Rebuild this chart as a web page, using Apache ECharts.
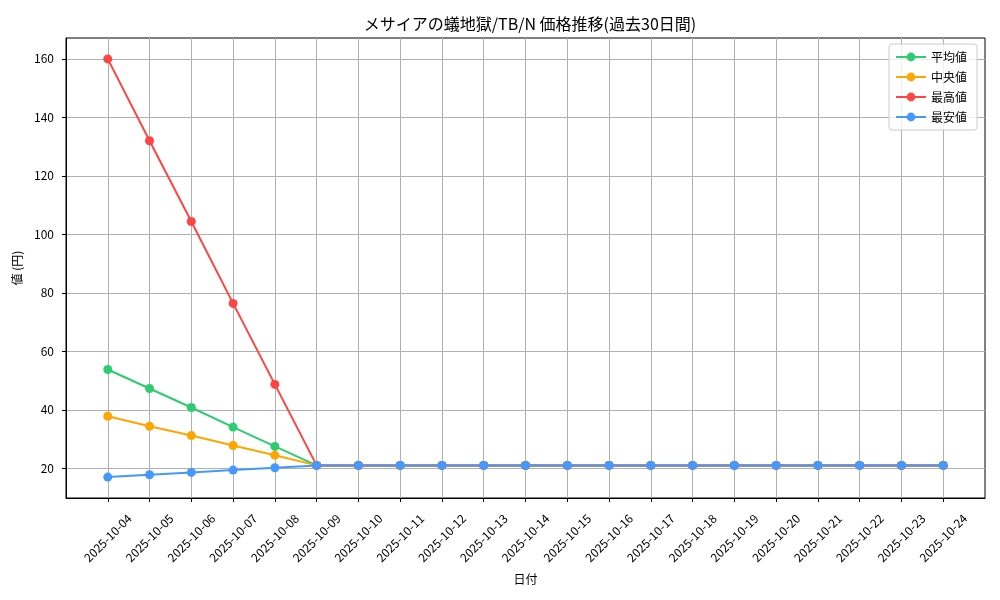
<!DOCTYPE html>
<html>
<head>
<meta charset="utf-8">
<script src="https://cdn.jsdelivr.net/npm/echarts@6/dist/echarts.min.js"></script>
<style>
html,body{margin:0;padding:0;background:#fff;}
#chart{width:1000px;height:600px;}
</style>
</head>
<body>
<div id="chart"></div>
<script>
const dates = ['2025-10-04','2025-10-05','2025-10-06','2025-10-07','2025-10-08','2025-10-09','2025-10-10','2025-10-11','2025-10-12','2025-10-13','2025-10-14','2025-10-15','2025-10-16','2025-10-17','2025-10-18','2025-10-19','2025-10-20','2025-10-21','2025-10-22','2025-10-23','2025-10-24'];
const avgValues = [53.8, 47.3, 40.8, 34.1, 27.5, 21, 21, 21, 21, 21, 21, 21, 21, 21, 21, 21, 21, 21, 21, 21, 21];
const medianValues = [37.8, 34.4, 31.2, 27.8, 24.5, 21, 21, 21, 21, 21, 21, 21, 21, 21, 21, 21, 21, 21, 21, 21, 21];
const maxValues = [160, 132, 104.4, 76.4, 48.7, 21, 21, 21, 21, 21, 21, 21, 21, 21, 21, 21, 21, 21, 21, 21, 21];
const minValues = [17.0, 17.8, 18.6, 19.4, 20.2, 21, 21, 21, 21, 21, 21, 21, 21, 21, 21, 21, 21, 21, 21, 21, 21];
const yTicks = [20, 40, 60, 80, 100, 120, 140, 160];
const seriesNames = ['平均値', '中央値', '最高値', '最安値'];
const seriesColors = ['#2ecc71', '#ffa500', '#ff4444', '#4499ff'];

const FONT = '"Noto Sans CJK JP", sans-serif';
const chart = echarts.init(document.getElementById('chart'));
const allSeries = [avgValues, medianValues, maxValues, minValues];
const xIdx = dates.map((d, i) => i);

chart.setOption({
  animation: false,
  backgroundColor: '#fff',
  textStyle: {fontFamily: FONT},
  title: {
    text: 'メサイアの蟻地獄/TB/N 価格推移(過去30日間)',
    left: 525, top: 11, textAlign: 'center',
    textStyle: {fontFamily: FONT, fontSize: 16, fontWeight: 'normal', color: '#000'}
  },
  legend: {
    orient: 'vertical', right: 23, top: 44,
    itemWidth: 30, itemHeight: 11, itemGap: 8,
    padding: [7, 10, 7, 6],
    borderColor: '#cccccc', borderWidth: 1, borderRadius: 3,
    backgroundColor: 'rgba(255,255,255,0.8)',
    textStyle: {fontFamily: FONT, fontSize: 12, color: '#000', lineHeight: 11},
    data: seriesNames
  },
  grid: {
    left: 66, right: 15, top: 38, bottom: 102,
    show: true, borderColor: '#000', borderWidth: 1, containLabel: false
  },
  xAxis: {
    type: 'value', min: -1, max: 21, interval: 1,
    name: '日付', nameLocation: 'middle', nameGap: 75,
    nameTextStyle: {fontFamily: FONT, fontSize: 12, color: '#000'},
    axisLine: {show: true, onZero: false, lineStyle: {color: '#000', width: 1}},
    axisTick: {show: true, length: 4, lineStyle: {color: '#000'}, customValues: xIdx},
    axisLabel: {
      rotate: 45, align: 'center', verticalAlign: 'middle', margin: 40,
      fontFamily: FONT, fontSize: 12, color: '#000',
      customValues: xIdx,
      formatter: v => (v >= 0 && v < dates.length && Number.isInteger(v)) ? dates[v] : ''
    },
    splitLine: {show: true, lineStyle: {color: '#b0b0b0', width: 1}}
  },
  yAxis: {
    type: 'value', min: 9.85, max: 167.15, splitNumber: 8,
    name: '値 (円)', nameLocation: 'middle', nameGap: 39, nameRotate: 90,
    nameTextStyle: {fontFamily: FONT, fontSize: 12, color: '#000'},
    axisLine: {show: true, onZero: false, lineStyle: {color: '#000', width: 1}},
    axisTick: {show: true, length: 4, lineStyle: {color: '#000'}, customValues: yTicks},
    axisLabel: {
      margin: 12, fontFamily: FONT, fontSize: 12, color: '#000',
      customValues: yTicks,
      formatter: v => String(v)
    },
    splitLine: {show: true, lineStyle: {color: '#b0b0b0', width: 1}}
  },
  series: allSeries.map((vals, k) => ({
    name: seriesNames[k],
    type: 'line',
    data: vals.map((v, i) => [i, v]),
    symbol: 'circle', symbolSize: 9,
    itemStyle: {color: seriesColors[k]},
    lineStyle: {color: seriesColors[k], width: 2},
    z: 2 + k
  }))
});
</script>
</body>
</html>
